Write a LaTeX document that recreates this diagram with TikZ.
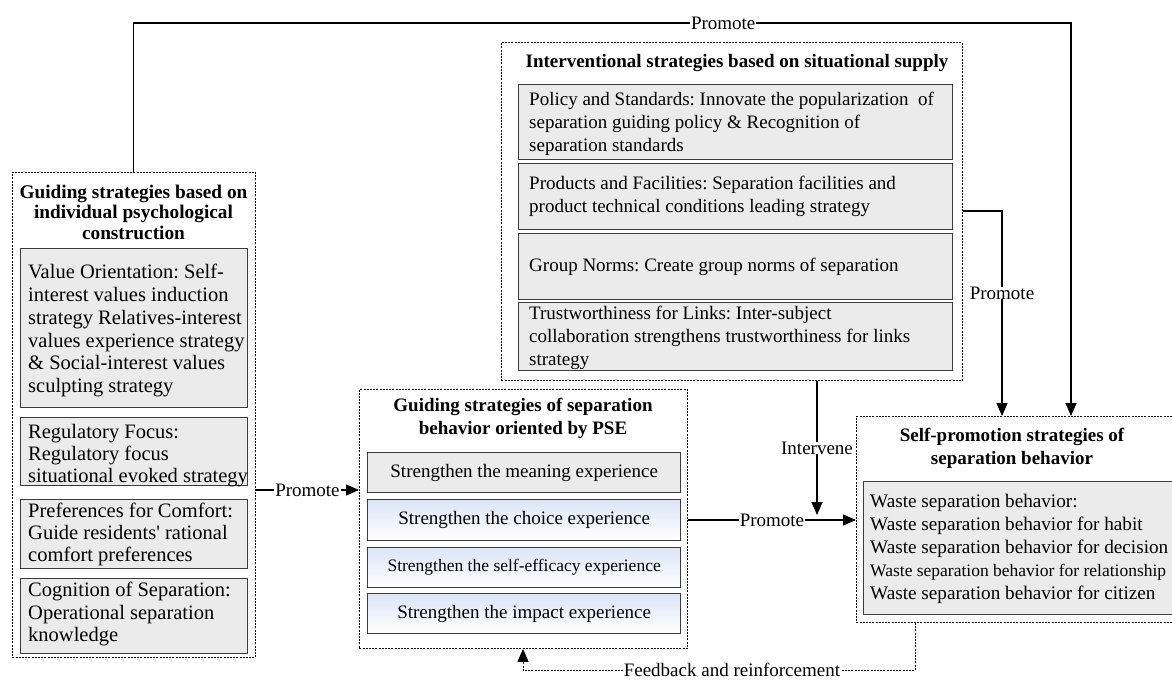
\documentclass[tikz,border=0pt]{standalone}
\usepackage{fontspec}
\setmainfont{Liberation Serif}
\usetikzlibrary{arrows.meta}
\definecolor{boxfill}{RGB}{235,235,235}
\definecolor{boxline}{RGB}{60,60,60}
\definecolor{psetop}{RGB}{219,229,246}
\newcommand{\myfs}[2]{\fontsize{#1}{#2}\selectfont}
\begin{document}
\frenchspacing
\begin{tikzpicture}[x=1pt,y=-1pt,
 outer/.style={draw=black, line width=0.9pt, dash pattern=on 2pt off 1.2pt, anchor=north west, inner sep=0pt},
 ibox/.style={draw=boxline, line width=1.3pt, fill=boxfill, anchor=north west, inner sep=0pt},
 bbox/.style={ibox, top color=psetop, bottom color=white},
 txt/.style={anchor=west, align=left, inner sep=0pt},
 ctxt/.style={align=center, inner sep=0pt, font=\myfs{19}{22}},
 ttl/.style={font=\bfseries\myfs{19}{21}, align=center, inner sep=0pt},
 lbl/.style={fill=white, inner xsep=1pt, inner ysep=0pt, font=\myfs{19}{22}},
 con/.style={draw=black, line width=1.1pt},
 arr/.style={con, -{Triangle[length=13pt,width=11pt]}},
 fb/.style={draw=black, line width=0.9pt, dash pattern=on 2pt off 1.2pt, -{Triangle[length=13pt,width=11pt]}},
]
\useasboundingbox (0,0) rectangle (1172,680);

% ---------- left block ----------
\node[outer, minimum width=243, minimum height=485] (L) at (12,172) {};
\node[ttl, font=\bfseries\myfs{19.3}{20.5}] (Lt) at (133.5,212) {Guiding strategies based on\\individual psychological\\construction};
\node[ibox, minimum width=227, minimum height=159] (v1) at (20,248) {};
\node[ibox, minimum width=227, minimum height=68] (v2) at (20,417) {};
\node[ibox, minimum width=227, minimum height=69] (v3) at (20,499) {};
\node[ibox, minimum width=227, minimum height=75] (v4) at (20,578) {};
\node[txt, font=\myfs{20.5}{22.8}] (v1t) at ([xshift=8pt,yshift=-2.5pt]v1.west)
 {Value Orientation: Self-\\interest values induction\\strategy Relatives-interest\\values experience strategy\\\& Social-interest values\\sculpting strategy};
\node[txt, font=\myfs{20.5}{22}] (v2t) at ([xshift=8pt,yshift=-4pt]v2.west)
 {Regulatory Focus:\\Regulatory focus\\situational evoked strategy};
\node[txt, font=\myfs{20.5}{22}] (v3t) at ([xshift=8pt]v3.west)
 {Preferences for Comfort:\\Guide residents\textquotesingle\ rational\\comfort preferences};
\node[txt, font=\myfs{20.5}{22.5}] (v4t) at ([xshift=8pt,yshift=2pt]v4.west)
 {Cognition of Separation:\\Operational separation\\knowledge};

% ---------- intervention block ----------
\node[outer, minimum width=461, minimum height=338] (I) at (501,42) {};
\node[ttl] (It) at (737,63) {Interventional strategies based on situational supply};
\node[ibox, minimum width=434, minimum height=75] (p1) at (518,84) {};
\node[ibox, minimum width=434, minimum height=66] (p2) at (518,163) {};
\node[ibox, minimum width=434, minimum height=66] (p3) at (518,233) {};
\node[ibox, minimum width=434, minimum height=68] (p4) at (518,302) {};
\node[txt, font=\myfs{19}{23}] (p1t) at ([xshift=11pt,yshift=-1.5pt]p1.west)
 {Policy and Standards: Innovate the popularization\ \ of\\separation guiding policy \& Recognition of\\separation standards};
\node[txt, font=\myfs{19}{23}] (p2t) at ([xshift=11pt]p2.west)
 {Products and Facilities: Separation facilities and\\product technical conditions leading strategy};
\node[txt, font=\myfs{19}{23}] (p3t) at ([xshift=11pt]p3.west)
 {Group Norms: Create group norms of separation};
\node[txt, font=\myfs{19}{23}] (p4t) at ([xshift=11pt,yshift=-1pt]p4.west)
 {Trustworthiness for Links: Inter-subject\\collaboration strengthens trustworthiness for links\\strategy};

% ---------- PSE block ----------
\node[outer, minimum width=328, minimum height=259] (P) at (359,389) {};
\node[ttl, font=\bfseries\myfs{19}{23}] (Pt) at (523,418.5) {Guiding strategies of separation\\behavior oriented by PSE};
\node[ibox, minimum width=313, minimum height=40] (s1) at (367,452) {};
\node[bbox, minimum width=313, minimum height=41] (s2) at (367,499) {};
\node[bbox, minimum width=313, minimum height=40] (s3) at (367,547) {};
\node[bbox, minimum width=313, minimum height=40] (s4) at (367,593) {};
\node[ctxt] (s1t) at (s1.center) {Strengthen the meaning experience};
\node[ctxt] (s2t) at (s2.center) {Strengthen the choice experience};
\node[ctxt, font=\myfs{17.5}{20}] (s3t) at (s3.center) {Strengthen the self-efficacy experience};
\node[ctxt] (s4t) at (s4.center) {Strengthen the impact experience};

% ---------- self-promotion block ----------
\node[outer, minimum width=330, minimum height=206] (SP) at (856,416) {};
\node[ttl, font=\bfseries\myfs{19}{23}] (SPt) at (1012,448.5) {Self-promotion strategies of\\separation behavior};
\node[ibox, minimum width=317, minimum height=133] (W) at (863,481) {};
\node[txt, font=\myfs{19.2}{23}] (Wt) at ([xshift=7pt,yshift=-0.5pt]W.west)
 {Waste separation behavior:\\Waste separation behavior for habit\\Waste separation behavior for decision\\{\myfs{17.5}{23}Waste separation behavior for relationship}\\Waste separation behavior for citizen};

% ---------- connectors ----------
\coordinate (y490) at (0,490);
\coordinate (y520) at (0,520);
\coordinate (y211) at (0,211);
\coordinate (xI) at (817,0);
\coordinate (iv) at (817,515);
\coordinate (t1) at (133.5,23);
\coordinate (t2) at (1071,23);
\coordinate (xP) at (1002,0);
\coordinate (f1) at (915,670);
\coordinate (f2) at (523,670);

\draw[arr] (L.east |- y490) -- node[lbl]{Promote} (P.west |- y490);
\draw[arr] (P.east |- y520) -- node[lbl]{Promote} (SP.west |- y520);
\draw[arr] (I.south -| xI) -- node[lbl, pos=0.5]{Intervene} (iv);
\draw[arr] (I.east |- y211) -| node[lbl, pos=0.7]{Promote} (SP.north -| xP);
\draw[arr] (L.north -| t1) -- (t1) -- node[lbl, pos=0.629]{Promote} (t2) -- (SP.north -| t2);
\draw[fb] (SP.south -| f1) -- (f1) -- node[lbl, pos=0.467]{Feedback and reinforcement} (f2) -- (P.south -| f2);
\end{tikzpicture}
\end{document}
